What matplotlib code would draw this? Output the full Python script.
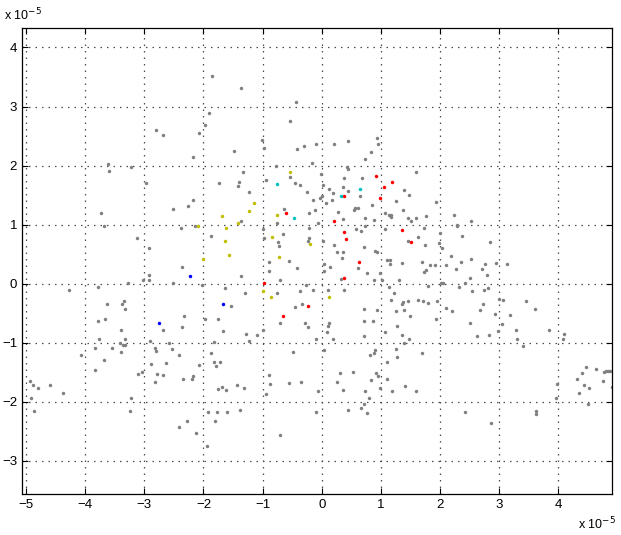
import matplotlib
matplotlib.use("Agg")
import matplotlib.pyplot as plt
import numpy as np

plt.rcParams['font.family'] = ['Liberation Sans', 'DejaVu Sans']

# values in units of 1e-5
gray_x = [
    -2.81, -2.68, -3.62, -3.60, -3.22, -2.98,
    -1.86, -1.37, -0.44, -1.91, -1.98, -2.07, -0.53, -1.01, -0.97, -0.42, -0.30, -0.10,
    -1.48, -2.18, -0.16, -0.77, -1.34, -0.53, -0.95, -1.73, -1.40, -0.45, -0.37,
    0.20, 0.45, 0.93, 0.96, 0.83, 0.73, 0.43, 0.44, -0.02, 0.02, 0.37, 0.68, 1.59,
    -3.73, -3.68, -3.12, -2.92, -2.92, -2.92, -3.03, -3.27, -3.78, -4.27, -3.34, -3.38,
    -3.63, -3.32, -3.66, -3.78, -3.40, -2.69, -3.77, -3.32, -3.41, -2.90,
    -1.42, -1.23, -2.17, -2.51, -2.27, -1.36, -2.38, -2.15, -1.88, -2.37, -1.37, -2.51,
    -2.02, -1.64, -1.30, -1.53, -2.33, -1.97, -1.75, -2.36, -1.67, -1.28, -1.09, -1.23,
    -0.99, -0.97, -0.75, -0.63, -0.65, -0.74, -0.72, -0.56, -0.89, -0.89, -0.70, -0.42,
    -0.25, -0.15, -0.12, -0.22, -0.22, -0.22, -0.23, -0.75, -0.27, -0.15, -0.36, -0.34,
    -0.45, -0.71, -0.29, -0.23, -0.99, -0.09,
    0.12, 0.36, 0.44, 0.19, -0.03, 0.00, 0.64, 0.18, 0.08, 0.56, 0.54, 0.61, 0.85, 0.28,
    0.36, 0.74, 0.89, -0.06, 0.73, 0.58, 0.67, 0.02, 0.20, 0.72, 0.26, 0.36, 0.90, 0.93,
    0.35, 0.04, 0.14, 0.61, 0.76, 0.98, 0.04, 0.33, 0.88, 0.11, 0.37, 0.72, 0.93, 0.72,
    0.86, 0.12, 0.11, 0.09, 0.19, 0.72,
    1.40, 1.48, 1.25, 1.38, 1.07, 1.13, 1.18, 1.18, 1.46, 1.51, 1.60, 1.77, 1.94, 2.23,
    2.28, 2.29, 2.38, 1.07, 1.73, 1.63, 1.46, 1.74, 2.00, 1.98, 2.03, 2.19, 2.36, 2.27,
    2.11, 1.10, 1.16, 1.15, 1.35, 1.69, 1.83, 1.92, 1.77, 1.73, 1.30, 1.02, 1.80, 2.01,
    2.05, 2.32, 1.14, 1.22, 1.17, 1.38, 1.36, 1.46, 1.63, 1.72, 1.80, 1.95, 1.25, 1.39,
    1.49, 1.94, 2.10, 2.20, 1.27, 1.07, 1.35, 1.47,
    2.53, 2.84, 2.53, 2.76, 2.94, 3.14, 2.71, 2.80, 2.51, 2.42, 2.55, 2.74, 2.81, 3.00,
    3.07, 3.46, 2.73, 2.67, 3.61, 2.93, 3.19, 2.50, 3.05, 2.99, 3.28, 3.85, 4.09, 4.08,
    2.63, 2.83, 3.30,
    -4.08, -4.93, -4.89, -4.80, -4.59, -4.38, -4.92, -4.87, -3.83, -3.69, -3.84, -3.54,
    -3.36, -3.33, -3.39, -3.10, -3.04, -3.23, -3.25, -2.82, -2.81, -2.58, -2.89, -2.64,
    -2.79, -2.68, -2.82,
    -2.53, -2.42, -1.83, -1.88, -2.07, -1.82, -1.72, -1.78, -2.18, -2.19, -2.34, -1.76,
    -1.68, -1.62, -1.43, -1.31, -0.90, -0.87, -0.55, -0.35, -0.48, -0.95, -0.07, -1.93,
    -1.77, -1.61, -1.38, -1.81, -2.28, -2.42, -2.13, -1.94, -0.71, -0.09,
    0.04, 0.90, 0.88, 0.81, 1.40, 1.25, 1.27, 1.69, 1.10, 0.31, 0.53, 0.92, 0.95, 0.26,
    0.83, 1.10, 0.36, 0.74, 0.98, 1.19, 1.41, 1.60, 0.80, 0.71, 0.66, 0.44, 0.77, 2.43,
    3.41, 3.98, 3.97, 2.86, 3.62, 3.62, 4.32, 4.40, 4.47, 4.64, 4.77, 4.81, 4.84, 4.88,
    4.44, 4.36, 4.52, 4.75, 4.91, 4.51,
]
gray_y = [
    2.60, 2.51, 2.02, 1.91, 1.98, 1.70,
    3.51, 3.32, 3.08, 2.89, 2.69, 2.55, 2.75, 2.44, 2.30, 2.28, 2.33, 2.36,
    2.25, 2.15, 2.04, 2.00, 1.89, 1.80, 1.76, 1.71, 1.72, 1.71, 1.68,
    2.36, 2.41, 2.46, 2.36, 2.23, 2.11, 1.98, 1.94, 1.85, 1.68, 1.79, 1.79, 1.89,
    1.20, 0.98, 0.77, 0.61, 0.14, 0.07, 0.07, 0.02, -0.05, -0.10, -0.29, -0.35,
    -0.35, -0.42, -0.60, -0.63, -0.78, -0.79, -0.93, -0.94, -1.00, -0.97,
    1.66, 1.56, 1.42, 1.27, 1.31, 1.06, 0.94, 0.98, 0.81, 0.29, 0.13, 0.01,
    -0.02, -0.07, -0.16, -0.37, -0.55, -0.60, -0.60, -0.74, -0.80, -0.85, -0.86, -0.97,
    0.93, 0.77, 1.02, 1.27, 0.84, 0.70, 0.64, 0.38, 0.37, 0.21, 0.06, 0.27,
    1.55, 1.41, 1.25, 1.19, 0.95, 0.77, 0.73, -0.16, -0.02, -0.10, -0.12, -0.35,
    -0.40, -0.67, -0.66, -0.74, -0.79, -0.94,
    1.61, 1.63, 1.57, 1.54, 1.46, 1.49, 1.49, 1.42, 1.36, 1.29, 1.25, 1.29, 1.33, 1.21,
    1.09, 1.11, 1.08, 1.03, 0.98, 0.92, 0.89, 0.72, 0.66, 0.62, 0.54, 0.53, 0.55, 0.53,
    0.43, 0.34, 0.29, 0.26, 0.18, 0.18, 0.21, 0.08, 0.06, -0.10, -0.10, -0.43, -0.44, -0.63,
    -0.63, -0.66, -0.71, -0.82, -0.93, -0.88,
    1.58, 1.50, 1.40, 1.25, 1.20, 1.17, 1.16, 1.13, 1.11, 1.06, 1.11, 1.15, 1.39, 1.16,
    1.00, 0.97, 0.81, 0.92, 0.95, 0.79, 0.73, 0.66, 0.86, 0.69, 0.60, 0.47, 0.36, 0.25,
    0.32, 0.40, 0.41, 0.34, 0.35, 0.37, 0.32, 0.31, 0.23, 0.20, 0.06, 0.06, -0.03, 0.01,
    0.01, -0.05, -0.05, -0.15, -0.28, -0.31, -0.35, -0.30, -0.28, -0.29, -0.32, -0.29, -0.47, -0.45,
    -0.55, -0.59, -0.41, -0.47, -0.72, -0.82, -0.86, -0.94,
    1.07, 0.71, 0.42, 0.33, 0.35, 0.33, 0.25, 0.15, 0.10, 0.01, -0.13, -0.10, -0.07, -0.25,
    -0.28, -0.30, -0.34, -0.44, -0.43, -0.51, -0.53, -0.67, -0.68, -0.80, -0.79, -0.79, -0.85, -0.94,
    -0.88, -0.86, -0.94,
    -1.20, -1.65, -1.71, -1.77, -1.71, -1.85, -1.94, -2.15, -1.09, -1.29, -1.46, -1.08,
    -1.04, -1.04, -1.15, -1.53, -1.49, -1.94, -2.16, -1.08, -1.14, -1.00, -1.36, -1.34,
    -1.53, -1.55, -1.67,
    -1.10, -1.21, -0.99, -1.17, -1.38, -1.32, -1.33, -1.40, -1.56, -1.61, -1.62, -1.79,
    -1.74, -1.80, -1.71, -1.77, -1.54, -1.69, -1.68, -1.66, -1.16, -1.86, -1.82, -2.18,
    -2.17, -2.18, -2.14, -2.32, -2.32, -2.43, -2.52, -2.75, -2.56, -2.17,
    -1.13, -1.12, -1.18, -1.21, -1.01, -1.11, -1.24, -1.18, -1.33, -1.51, -1.49, -1.51, -1.56, -1.67,
    -1.63, -1.62, -1.80, -1.82, -1.77, -1.82, -1.73, -1.81, -1.94, -2.04, -2.10, -2.14, -2.19, -2.18,
    -1.06, -1.69, -1.94, -2.36, -2.15, -2.21, -1.62, -1.51, -1.41, -1.44, -1.50, -1.47, -1.48, -1.47,
    -1.71, -1.85, -1.76, -1.65, -1.75, -2.04,
]

red_x = [0.92, 1.19, -0.61, -0.97, -0.23, -0.66, 0.38, 0.20, 0.38, 0.41, 0.63, 0.37, 1.06, 0.98, 1.35, 1.51]
red_y = [1.82, 1.73, 1.19, 0.01, -0.37, -0.55, 1.48, 1.06, 0.88, 0.76, 0.36, 0.10, 1.63, 1.45, 0.91, 0.70]

yellow_x = [-0.53, -1.15, -1.23, -1.69, -1.41, -2.09, -1.62, -1.63, -1.57, -2.01, -0.84, -0.76, -0.72, -0.20, -1.00, -0.86, 0.12]
yellow_y = [1.89, 1.37, 1.24, 1.14, 1.03, 0.98, 0.95, 0.72, 0.48, 0.42, 0.79, 1.16, 0.45, 0.67, -0.13, -0.23, -0.23]

cyan_x = [-0.76, -0.47, 0.64, 0.33]
cyan_y = [1.69, 1.12, 1.61, 1.49]

blue_x = [-2.75, -2.23, -1.67]
blue_y = [-0.67, 0.13, -0.35]

x_ticks = [-5, -4, -3, -2, -1, 0, 1, 2, 3, 4]
y_ticks = [-3, -2, -1, 0, 1, 2, 3, 4]

W, H = 621, 535
fig = plt.figure(figsize=(W / 100, H / 100), dpi=100)
ax = fig.add_axes([22 / W, 1 - 494 / H, (612 - 22) / W, (494 - 28) / H])

ms = 2.5
ax.plot(gray_x, gray_y, 'o', ms=ms, mew=0, color=(0.5, 0.5, 0.5))
ax.plot(red_x, red_y, 'o', ms=ms, mew=0, color=(1, 0, 0))
ax.plot(yellow_x, yellow_y, 'o', ms=ms, mew=0, color=(0.75, 0.75, 0))
ax.plot(cyan_x, cyan_y, 'o', ms=ms, mew=0, color=(0, 0.75, 0.75))
ax.plot(blue_x, blue_y, 'o', ms=ms, mew=0, color=(0, 0, 1))

ax.set_xlim(-5.07, 4.91)
ax.set_ylim(-3.56, 4.33)
ax.set_xticks(x_ticks)
ax.set_yticks(y_ticks)
ax.set_axisbelow(True)
ax.grid(True, color=(0.3, 0.3, 0.3), linestyle=(0, (1.2, 4)), linewidth=0.9)
ax.tick_params(direction='in', top=True, right=True, length=4, labelsize=9.5, width=0.8)
for s in ax.spines.values():
    s.set_linewidth(0.9)

fig.text(4 / W, 1 - 15 / H, r'x 10$^{-5}$', fontsize=9, va='center', ha='left')
fig.text(578 / W, 1 - 524 / H, r'x 10$^{-5}$', fontsize=9, va='center', ha='left')

fig.savefig('out.png', dpi=100)
